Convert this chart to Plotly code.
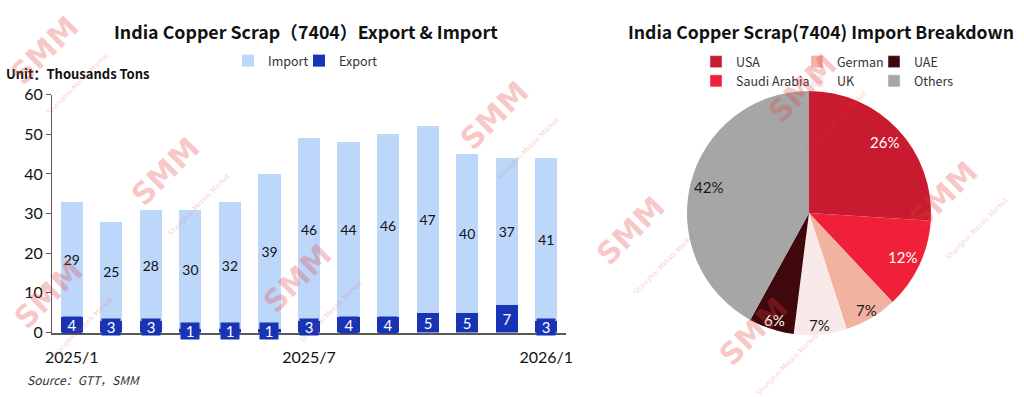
import math
import plotly.graph_objects as go

# ---------------- data ----------------
months = ["2025/1", "2025/2", "2025/3", "2025/4", "2025/5", "2025/6", "2025/7",
          "2025/8", "2025/9", "2025/10", "2025/11", "2025/12", "2026/1"]
imports = [29, 25, 28, 30, 32, 39, 46, 44, 46, 47, 40, 37, 41]
exports = [4, 3, 3, 1, 1, 1, 3, 4, 4, 5, 5, 7, 3]
tick_labels = ["2025/1", "2025/7", "2026/1"]

countries = ["USA", "Saudi Arabia", "German", "UK", "UAE", "Others"]
shares = [26, 12, 7, 7, 6, 42]

# ---------------- styles ----------------
IMPORT_C = "#BDD7FB"
EXPORT_C = "#1834B4"
PIE_COLORS = ["#C91B2F", "#EF2038", "#F2B2A0", "#F9E9E8", "#3F080C", "#A6A6A6"]
PIE_TEXT_COLORS = ["white", "white", "#1a1a1a", "#1a1a1a", "white", "#1a1a1a"]
TXT_FONT = "Lato, 'Noto Sans', sans-serif"
CJK = "'Noto Sans CJK SC', 'Noto Sans', sans-serif"
W, H = 1024, 397

def px(x):
    return x / W

def py(y):
    return 1 - y / H

fig = go.Figure()

# stacked bars: export (bottom), import (top)
fig.add_trace(go.Bar(
    x=months, y=exports, name="Export", marker_color=EXPORT_C,
    marker_line_width=0, legend="legend5",
    hoverinfo="skip",
))
fig.add_trace(go.Bar(
    x=months, y=imports, name="Import", marker_color=IMPORT_C,
    marker_line_width=0, legend="legend",
    text=[str(v) for v in imports], textposition="inside",
    insidetextanchor="middle", textangle=0,
    textfont=dict(family=TXT_FONT, size=16, color="#111111"),
    hoverinfo="skip",
))

# export labels: white text on dark blue box centred on the export segment
for m, e in zip(months, exports):
    fig.add_annotation(
        x=m, y=e / 2, xref="x", yref="y", text=str(e), showarrow=False,
        xanchor="center", yanchor="middle",
        font=dict(family=TXT_FONT, size=15, color="white"),
        bgcolor=EXPORT_C, borderpad=1, width=16, height=14,
    )

# pie chart
PIE_L, PIE_R, PIE_T, PIE_B = 687, 931, 91, 335
fig.add_trace(go.Pie(
    labels=countries, values=shares, sort=False, direction="clockwise",
    rotation=0, marker=dict(colors=PIE_COLORS, line=dict(width=0)),
    textinfo="none",
    domain=dict(x=[px(PIE_L), px(PIE_R)], y=[py(PIE_B), py(PIE_T)]),
    showlegend=False, hoverinfo="skip",
))

# pie percentage labels placed along each slice's mid-angle
cx, cy = (PIE_L + PIE_R) / 2, (PIE_T + PIE_B) / 2
rad = min(PIE_R - PIE_L, PIE_B - PIE_T) / 2
total = sum(shares)
cum = 0
for val, tc in zip(shares, PIE_TEXT_COLORS):
    mid = (cum + val / 2) / total * 2 * math.pi
    cum += val
    rf = 0.85 if val >= 10 else 0.92
    lx = cx + rf * rad * math.sin(mid)
    ly = cy - rf * rad * math.cos(mid)
    fig.add_annotation(
        x=px(lx), y=py(ly), xref="paper", yref="paper", showarrow=False,
        xanchor="center", yanchor="middle", text=f"{val}%",
        font=dict(family=TXT_FONT, size=15, color=tc),
    )

# pie legend via dummy bars on hidden axes, in three 2-row columns
legend_cols = [["USA", "Saudi Arabia"], ["German", "UK"], ["UAE", "Others"]]
for ci, col in enumerate(legend_cols):
    for name in col:
        idx = countries.index(name)
        fig.add_trace(go.Bar(
            x=[None], y=[None], xaxis="x2", yaxis="y2", name=name,
            marker_color=PIE_COLORS[idx], legend=f"legend{ci + 2}",
            showlegend=True, hoverinfo="skip",
        ))

leg_font = dict(family=CJK, size=12.5, color="#333333")
legend_common = dict(bgcolor="rgba(0,0,0,0)", font=leg_font, itemwidth=30,
                     xanchor="left", yanchor="top", tracegroupgap=0,
                     traceorder="normal")
bar_leg = dict(orientation="h", y=py(61), yanchor="middle", xanchor="left",
               font=leg_font, bgcolor="rgba(0,0,0,0)", itemwidth=30)

fig.update_layout(
    width=W, height=H, autosize=False,
    margin=dict(l=0, r=0, t=0, b=0, autoexpand=False),
    paper_bgcolor="white", plot_bgcolor="white",
    barmode="stack", bargap=0.44,
    xaxis=dict(
        domain=[px(52), px(566)], type="category",
        tickmode="array", tickvals=tick_labels, ticktext=tick_labels,
        showline=True, linecolor="#595959", linewidth=1.5,
        ticks="", showgrid=False, zeroline=False,
        tickfont=dict(family=TXT_FONT, size=16, color="#111111"),
        ticklabelstandoff=10,
    ),
    yaxis=dict(
        domain=[py(332.5), py(94.7)], range=[0, 60], dtick=10,
        showline=True, linecolor="#595959", linewidth=1,
        ticks="outside", ticklen=5, tickcolor="#595959",
        showgrid=False, zeroline=False,
        tickfont=dict(family=TXT_FONT, size=16, color="#111111"),
    ),
    xaxis2=dict(visible=False, domain=[0.99, 1.0], anchor="y2"),
    yaxis2=dict(visible=False, domain=[0.99, 1.0], anchor="x2"),
    legend=dict(bar_leg, x=px(228)),
    legend5=dict(bar_leg, x=px(299)),
    legend2=dict(legend_common, x=px(696), y=py(47)),
    legend3=dict(legend_common, x=px(797), y=py(47)),
    legend4=dict(legend_common, x=px(874), y=py(47)),
    showlegend=True,
)

# titles and notes
notes = [
    (306, 31, "center", "<b>India Copper Scrap（7404）Export &amp; Import</b>", 17.8, "#111111"),
    (821, 31, "center", "<b>India Copper Scrap(7404) Import Breakdown</b>", 17.6, "#111111"),
    (4, 73, "left", "<b>Unit：Thousands Tons</b>", 13, "#111111"),
    (25, 379, "left", "<i>Source：GTT，SMM</i>", 12, "#333333"),
]
for nx, ny, anc, txt, sz, col in notes:
    fig.add_annotation(x=px(nx), y=py(ny), xref="paper", yref="paper",
                       xanchor=anc, yanchor="middle", text=txt, showarrow=False,
                       font=dict(family=CJK, size=sz, color=col))

# watermarks
WATERMARKS = [(56, 62), (177, 183), (506, 127), (309, 290), (643, 243),
              (814, 100), (955, 207), (765, 343), (60, 306)]
for wx, wy in WATERMARKS:
    fig.add_annotation(
        x=px(wx), y=py(wy), xref="paper", yref="paper", showarrow=False,
        xanchor="center", yanchor="middle",
        text="<b>SMM</b><br><span style='font-size:7px'>Shanghai Metals Market</span>",
        textangle=-45, font=dict(family="'DejaVu Sans', sans-serif", size=30,
                                 color="rgba(232,60,60,0.28)"),
    )

fig.write_html("out.html", config={"displayModeBar": False},
               post_script="document.body.style.margin='0';")
